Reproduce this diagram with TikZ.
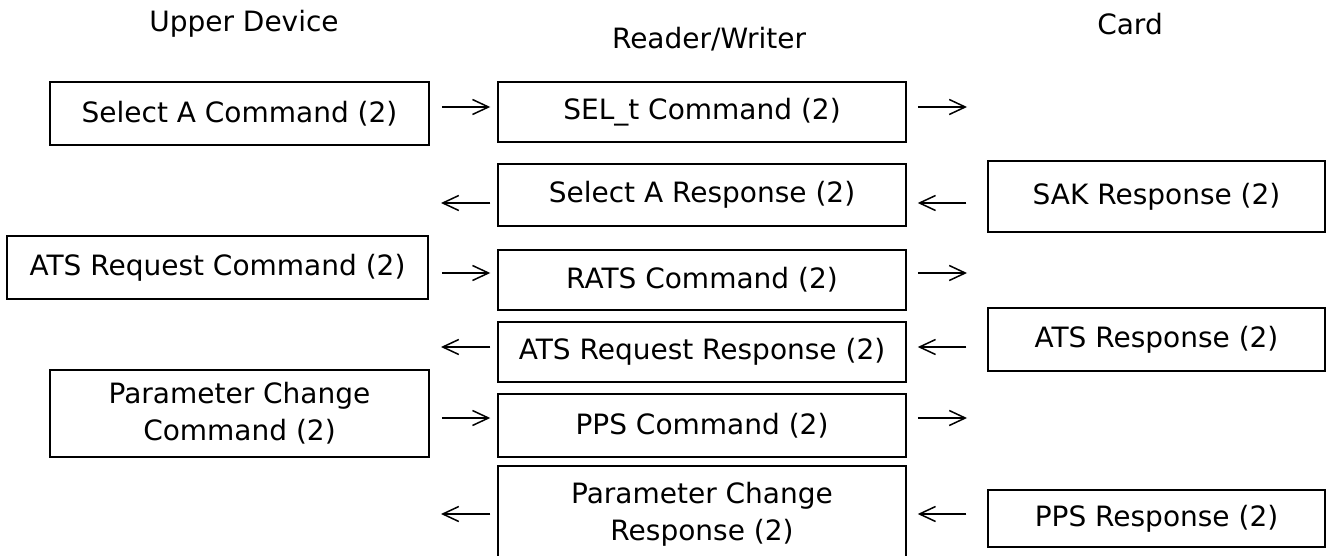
\documentclass[tikz,border=0pt]{standalone}
\usepackage{fontspec}
\setmainfont{DejaVu Sans}
\usetikzlibrary{arrows.meta}

% box given by its corners: name, x1, y1, x2, y2, text
\newcommand\flowbox[6]{%
  \node[flowbox, minimum width={(#4)-(#2)}, minimum height={(#5)-(#3)}]
    (#1) at ({((#2)+(#4))/2},{((#3)+(#5))/2}) {#6};}

\tikzset{
  flowbox/.style={draw, line width=1.5pt, inner sep=0pt, align=center,
    font=\fontsize{28}{37}\selectfont},
  head/.style={inner sep=0pt, font=\fontsize{28}{34}\selectfont},
  msg/.style={line width=1.5pt, -{Straight Barb[length=16pt,width=15pt,line width=1.5pt]}},
}

\begin{document}
\begin{tikzpicture}[x=1pt,y=-1pt]
\clip (0,0) rectangle (1329,556);

% column titles
\node[head] (hu) at (244,24) {Upper Device};
\node[head] (hr) at (709,39) {Reader/Writer};
\node[head] (hc) at (1130,24) {Card};

% upper device
\flowbox{c1a}{50}{82}{429}{145}{Select A Command (2)}
\flowbox{c1b}{7}{236}{428}{299}{ATS Request Command (2)}
\flowbox{c1c}{50}{370}{429}{457}{Parameter Change\\Command (2)}

% reader/writer
\flowbox{c2a}{498}{82}{906}{142}{SEL\_t Command (2)}
\flowbox{c2b}{498}{164}{906}{226}{Select A Response (2)}
\flowbox{c2c}{498}{250}{906}{310}{RATS Command (2)}
\flowbox{c2d}{498}{322}{906}{382}{ATS Request Response (2)}
\flowbox{c2e}{498}{394}{906}{457}{PPS Command (2)}
\flowbox{c2f}{498}{466}{906}{562}{Parameter Change\\Response (2)}

% card
\flowbox{c3a}{988}{161}{1325}{232}{SAK Response (2)}
\flowbox{c3b}{988}{308}{1325}{371}{ATS Response (2)}
\flowbox{c3c}{988}{490}{1325}{547}{PPS Response (2)}

% message rows
\coordinate (y1) at (0,107);
\coordinate (y2) at (0,203);
\coordinate (y3) at (0,273);
\coordinate (y4) at (0,347);
\coordinate (y5) at (0,418);
\coordinate (y6) at (0,514);

% open ends towards the card and back to the upper device
\coordinate (o1) at (967,107);
\coordinate (o3) at (967,273);
\coordinate (o5) at (967,418);
\coordinate (i2) at (441,203);
\coordinate (i4) at (441,347);
\coordinate (i6) at (441,514);

% commands: upper device -> reader/writer -> card
\draw[msg, shorten <=12pt, shorten >=7pt] (c1a.east |- y1) -- (c2a.west |- y1);
\draw[msg, shorten <=11pt] (c2a.east |- y1) -- (o1);
\draw[msg, shorten <=13pt, shorten >=7pt] (c1b.east |- y3) -- (c2c.west |- y3);
\draw[msg, shorten <=11pt] (c2c.east |- y3) -- (o3);
\draw[msg, shorten <=12pt, shorten >=7pt] (c1c.east |- y5) -- (c2e.west |- y5);
\draw[msg, shorten <=11pt] (c2e.east |- y5) -- (o5);

% responses: card -> reader/writer -> upper device
\draw[msg, shorten <=21pt, shorten >=11pt] (c3a.west |- y2) -- (c2b.east |- y2);
\draw[msg, shorten <=7pt] (c2b.west |- y2) -- (i2);
\draw[msg, shorten <=21pt, shorten >=11pt] (c3b.west |- y4) -- (c2d.east |- y4);
\draw[msg, shorten <=7pt] (c2d.west |- y4) -- (i4);
\draw[msg, shorten <=21pt, shorten >=11pt] (c3c.west |- y6) -- (c2f.east |- y6);
\draw[msg, shorten <=7pt] (c2f.west |- y6) -- (i6);
\end{tikzpicture}
\end{document}
